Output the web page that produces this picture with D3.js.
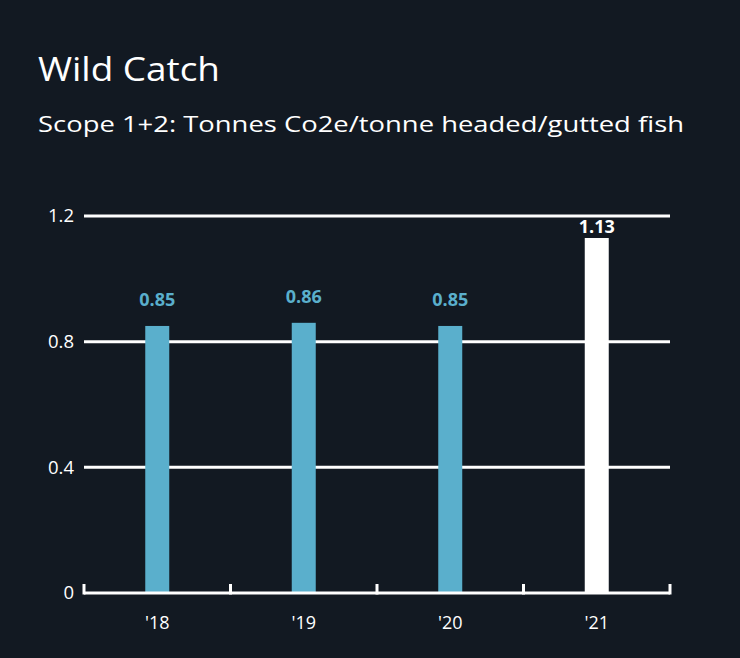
<!DOCTYPE html>
<html>
<head>
<meta charset="utf-8">
<script src="https://cdn.jsdelivr.net/npm/d3@7"></script>
<style>
  body { margin: 0; background: #121922; }
  svg { display: block; font-family: "Open Sans", Lato, sans-serif; }
</style>
</head>
<body>
<div id="chart"></div>
<script>
var years = ["'18", "'19", "'20", "'21"];
var values = [0.85, 0.86, 0.85, 1.13];
var yTicks = [0, 0.4, 0.8, 1.2];
var yTickLabels = ["0", "0.4", "0.8", "1.2"];

var svgWidth = 740;
var svgHeight = 658;
var margin = { top: 216, right: 70, bottom: 65, left: 84 };
var width = svgWidth - margin.left - margin.right;
var height = svgHeight - margin.top - margin.bottom;

var svg = d3.select("#chart").append("svg")
  .attr("width", svgWidth)
  .attr("height", svgHeight);

svg.append("rect")
  .attr("width", svgWidth)
  .attr("height", svgHeight)
  .attr("fill", "#121922");

// titles
svg.append("text")
  .attr("x", 38)
  .attr("y", 81)
  .attr("fill", "#ffffff")
  .attr("font-size", "33px")
  .attr("textLength", 182)
  .attr("lengthAdjust", "spacingAndGlyphs")
  .text("Wild Catch");

svg.append("text")
  .attr("x", 38)
  .attr("y", 132)
  .attr("fill", "#ffffff")
  .attr("font-size", "22px")
  .attr("textLength", 646)
  .attr("lengthAdjust", "spacingAndGlyphs")
  .text("Scope 1+2: Tonnes Co2e/tonne headed/gutted fish");

var chartGroup = svg.append("g")
  .attr("transform", `translate(${margin.left}, ${margin.top})`);

var xScale = d3.scaleBand()
  .domain(years)
  .range([0, width]);

var yScale = d3.scaleLinear()
  .domain([0, 1.2])
  .range([height, 0]);

// gridlines (skip zero, that's the axis)
chartGroup.selectAll(".grid")
  .data(yTicks.filter(d => d > 0))
  .enter().append("line")
  .attr("class", "grid")
  .attr("x1", 0)
  .attr("x2", width)
  .attr("y1", d => yScale(d))
  .attr("y2", d => yScale(d))
  .attr("stroke", "#ffffff")
  .attr("stroke-width", 3);

// y labels
chartGroup.selectAll(".ylabel")
  .data(yTicks)
  .enter().append("text")
  .attr("class", "ylabel")
  .attr("x", -10)
  .attr("y", d => yScale(d))
  .attr("dy", "0.35em")
  .attr("text-anchor", "end")
  .attr("fill", "#ffffff")
  .attr("font-size", "18.5px")
  .text((d, i) => yTickLabels[i]);

// bars
chartGroup.selectAll(".bar")
  .data(values)
  .enter().append("rect")
  .attr("class", "bar")
  .attr("x", (d, i) => xScale(years[i]) + xScale.bandwidth() / 2 - 12)
  .attr("width", 24)
  .attr("y", d => yScale(d))
  .attr("height", d => height - yScale(d))
  .attr("fill", (d, i) => i === values.length - 1 ? "#ffffff" : "#5aafcc");

// value labels
chartGroup.selectAll(".vlabel")
  .data(values)
  .enter().append("text")
  .attr("class", "vlabel")
  .attr("x", (d, i) => xScale(years[i]) + xScale.bandwidth() / 2)
  .attr("y", d => Math.max(yScale(d) - 20, yScale(1.2) + 17))
  .attr("text-anchor", "middle")
  .attr("font-weight", "bold")
  .attr("font-size", "18px")
  .attr("fill", (d, i) => i === values.length - 1 ? "#ffffff" : "#5aafcc")
  .text(d => d.toFixed(2));

// x axis with upward ticks at band edges
var axisLine = chartGroup.append("g")
  .attr("transform", `translate(0, ${height})`);

axisLine.append("line")
  .attr("x1", 0)
  .attr("x2", width)
  .attr("stroke", "#ffffff")
  .attr("stroke-width", 3);

var edges = years.map(d => xScale(d)).concat([width]);
axisLine.selectAll(".tick")
  .data(edges)
  .enter().append("line")
  .attr("class", "tick")
  .attr("x1", d => d)
  .attr("x2", d => d)
  .attr("y1", 1.5)
  .attr("y2", -9)
  .attr("stroke", "#ffffff")
  .attr("stroke-width", 3);

axisLine.selectAll(".xlabel")
  .data(years)
  .enter().append("text")
  .attr("class", "xlabel")
  .attr("x", d => xScale(d) + xScale.bandwidth() / 2)
  .attr("y", 36)
  .attr("text-anchor", "middle")
  .attr("fill", "#ffffff")
  .attr("font-size", "18px")
  .text(d => d);
</script>
</body>
</html>
